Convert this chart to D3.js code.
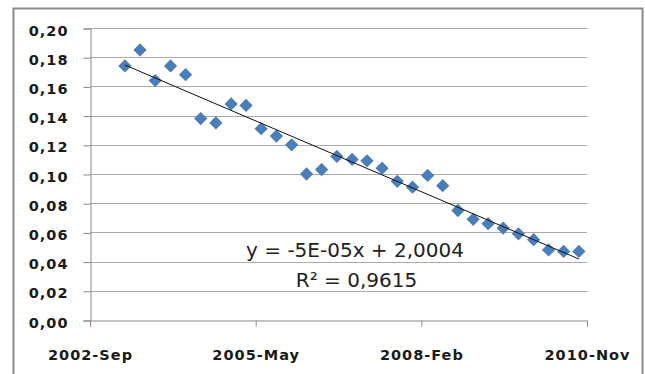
<!DOCTYPE html>
<html>
<head>
<meta charset="utf-8">
<script src="https://cdn.jsdelivr.net/npm/d3@7"></script>
<style>
  body { margin: 0; background: #fff; }
  svg { display: block; }
</style>
</head>
<body>
<div id="chart"></div>
<script>
"use strict";

// quarter-end dates and values
var dates = ["2003-03-31","2003-06-30","2003-09-30","2003-12-31",
	"2004-03-31","2004-06-30","2004-09-30","2004-12-31",
	"2005-03-31","2005-06-30","2005-09-30","2005-12-31",
	"2006-03-31","2006-06-30","2006-09-30","2006-12-31",
	"2007-03-31","2007-06-30","2007-09-30","2007-12-31",
	"2008-03-31","2008-06-30","2008-09-30","2008-12-31",
	"2009-03-31","2009-06-30","2009-09-30","2009-12-31",
	"2010-03-31","2010-06-30","2010-09-30"];
var values = [0.174, 0.185, 0.164, 0.174, 0.168, 0.138, 0.135, 0.148,
	0.147, 0.131, 0.126, 0.120, 0.100, 0.103, 0.112, 0.110,
	0.109, 0.104, 0.095, 0.091, 0.099, 0.092, 0.075, 0.069,
	0.066, 0.063, 0.059, 0.055, 0.048, 0.047, 0.047];
var xTicks = ["2002-09-01","2005-05-28","2008-02-22","2010-11-18"];
var yTicks = [0, 0.02, 0.04, 0.06, 0.08, 0.10, 0.12, 0.14, 0.16, 0.18, 0.20];
var eqLabel = "y = -5E-05x + 2,0004";
var r2Label = "R² = 0,9615";

var W = 645, H = 374;
var parse = d3.timeParse("%Y-%m-%d");
var fmtY = function (d) { return d3.format(".2f")(d).replace(".", ","); };
var fmtX = d3.timeFormat("%Y-%b");

var svg = d3.select("#chart").append("svg")
	.attr("width", W).attr("height", H);

// chart frame
svg.append("rect")
	.attr("x", 13.5).attr("y", 8.5)
	.attr("width", 629).attr("height", 380)
	.attr("fill", "#fff")
	.attr("stroke", "#8a8a8a")
	.attr("stroke-width", 2);

var plotL = 90, plotR = 587, plotT = 28, plotB = 320;

var x = d3.scaleTime()
	.domain([parse(xTicks[0]), parse(xTicks[xTicks.length - 1])])
	.range([plotL, plotR]);
var y = d3.scaleLinear().domain([0, 0.2]).range([plotB, plotT]);

// gridlines
svg.append("g").selectAll("line")
	.data(yTicks.slice(1))
	.enter().append("line")
	.attr("x1", plotL).attr("x2", plotR)
	.attr("y1", function (d) { return Math.round(y(d)) + 0.5; })
	.attr("y2", function (d) { return Math.round(y(d)) + 0.5; })
	.attr("stroke", "#ababab")
	.attr("stroke-width", 1);

// y axis
var yAxis = svg.append("g")
	.attr("transform", "translate(" + (plotL + 0.5) + ",0.5)")
	.call(d3.axisLeft(y).tickValues(yTicks).tickFormat(fmtY).tickSize(7).tickPadding(15));

// x axis
var xAxis = svg.append("g")
	.attr("transform", "translate(0," + (plotB + 0.5) + ")")
	.call(d3.axisBottom(x).tickValues(xTicks.map(parse)).tickFormat(fmtX).tickSize(6).tickPadding(23));

[yAxis, xAxis].forEach(function (g) {
	g.select(".domain").attr("stroke", "#8a8a8a");
	g.selectAll(".tick line").attr("stroke", "#8a8a8a");
	g.selectAll(".tick text")
		.attr("fill", "#1a1a1a")
		.style("font-family", "'DejaVu Sans', Verdana, sans-serif")
		.style("font-weight", "bold")
		.style("font-size", "14.5px")
		.style("letter-spacing", "1px");
});
yAxis.selectAll(".tick text").attr("x", -22).attr("dy", "0.45em");
xAxis.selectAll(".tick text").attr("dy", "0.71em");

// points
var pts = dates.map(function (d, i) { return { date: parse(d), value: values[i] }; });

svg.append("g").selectAll("path")
	.data(pts)
	.enter().append("path")
	.attr("d", d3.symbol().type(d3.symbolDiamond2).size(112))
	.attr("transform", function (d) { return "translate(" + x(d.date) + "," + y(d.value) + ")"; })
	.attr("fill", "#4a7ebb");

// linear trendline (least squares on the data)
var xs = pts.map(function (d) { return +d.date; });
var mx = d3.mean(xs), my = d3.mean(values);
var slope = d3.sum(pts, function (d) { return (+d.date - mx) * (d.value - my); }) /
	d3.sum(xs, function (v) { return (v - mx) * (v - mx); });
var icpt = my - slope * mx;
var ends = [xs[0], xs[xs.length - 1]];

svg.append("line")
	.attr("x1", x(ends[0])).attr("y1", y(icpt + slope * ends[0]))
	.attr("x2", x(ends[1])).attr("y2", y(icpt + slope * ends[1]))
	.attr("stroke", "#111")
	.attr("stroke-width", 1);

// equation labels
var eq = svg.append("g")
	.style("font-family", "'DejaVu Sans', sans-serif")
	.style("font-size", "20px")
	.attr("fill", "#222")
	.attr("text-anchor", "middle");
eq.append("text").attr("x", 355).attr("y", 257).text(eqLabel);
eq.append("text").attr("x", 356.5).attr("y", 287).text(r2Label);
</script>
</body>
</html>
